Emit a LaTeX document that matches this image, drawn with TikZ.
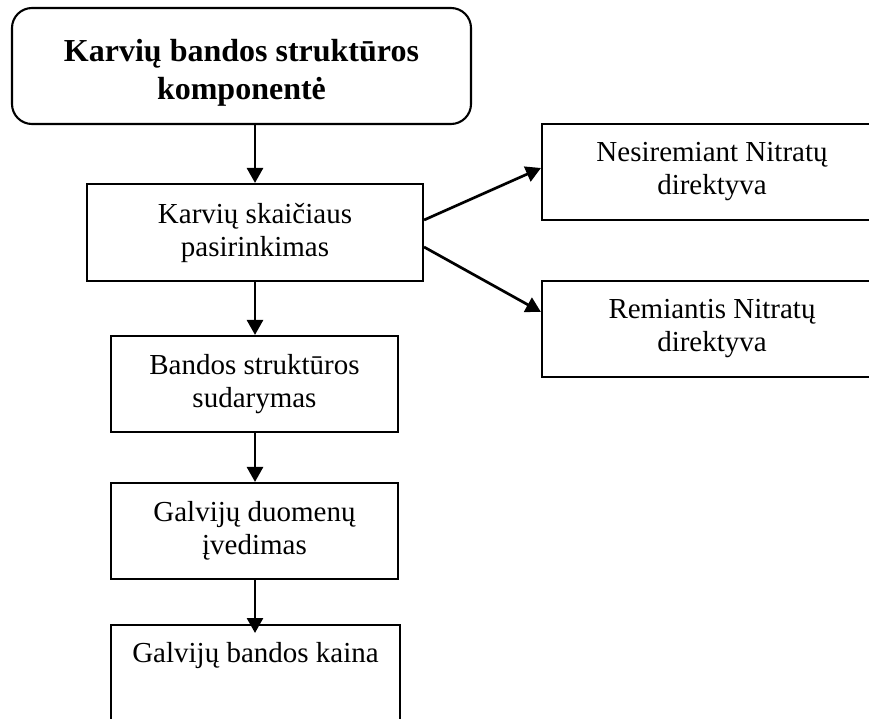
\documentclass[tikz,border=0pt]{standalone}
\usepackage{fontspec}
\setmainfont{Liberation Serif}
\usetikzlibrary{arrows.meta}
\begin{document}
\begin{tikzpicture}[x=1pt,y=-1pt,
  box/.style={draw, line width=2.1pt, rectangle, inner sep=0pt, align=center,
    font=\fontsize{29}{33}\selectfont},
  headbox/.style={draw, line width=2.1pt, rounded corners=20pt, inner sep=0pt,
    align=center, font=\fontsize{32}{38}\selectfont\bfseries},
  flow/.style={line width=2.7pt, -{Triangle[length=15pt,width=16pt]}}]
\useasboundingbox (0,0) rectangle (869,719);
\clip (0,0) rectangle (869,719);

% main chain
\node[headbox, minimum width=459pt, minimum height=116pt,
  text height=75pt, text depth=7pt] (head) at (241.5,66)
  {Karvių bandos struktūros\\komponentė};
\node[box, minimum width=336pt, minimum height=97pt] (count) at (255,232.5)
  {Karvių skaičiaus\\pasirinkimas};
\node[box, minimum width=287pt, minimum height=96pt] (herd) at (254.5,384)
  {Bandos struktūros\\sudarymas};
\node[box, minimum width=287pt, minimum height=96pt] (data) at (254.5,531)
  {Galvijų duomenų\\įvedimas};
\node[box, anchor=north, minimum width=289pt, text height=20pt, text depth=90pt,
  inner ysep=17pt] (price) at (255.5,624) {Galvijų bandos kaina};

% options on the right
\node[box, minimum width=340pt, minimum height=96pt] (nonitr) at (712,172)
  {Nesiremiant Nitratų\\direktyva};
\node[box, minimum width=340pt, minimum height=96pt] (nitr) at (712,329)
  {Remiantis Nitratų\\direktyva};

% connectors
\draw[flow] (count |- head.south) -- (count.north);
\draw[flow] (count.south) -- (count.south |- herd.north);
\draw[flow] (count.south |- herd.south) -- (count.south |- data.north);
\draw[flow] (count.south |- data.south) -- ([yshift=-9pt]count.south |- price.north);
\draw[flow] ([yshift=12.5pt]count.east) -- ([yshift=4pt]nonitr.west);
\draw[flow] ([yshift=-14.5pt]count.east) -- ([yshift=17pt]nitr.west);
\end{tikzpicture}
\end{document}
